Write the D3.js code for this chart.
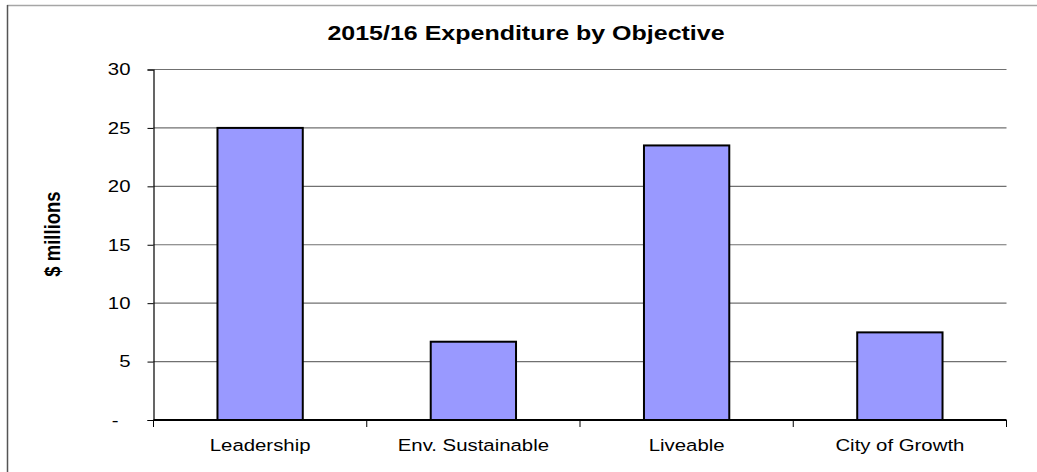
<!DOCTYPE html>
<html>
<head>
<meta charset="utf-8">
<script src="https://cdn.jsdelivr.net/npm/d3@7/dist/d3.min.js"></script>
<style>
  html, body { margin: 0; padding: 0; background: #fff; }
  svg { display: block; }
  text { font-family: "Liberation Sans", Arial, sans-serif; fill: #000; }
</style>
</head>
<body>
<svg id="chart" width="1037" height="472"></svg>
<script>
// Expenditure by objective, $ millions
const categories = ["Leadership", "Env. Sustainable", "Liveable", "City of Growth"];
const expenditure = [25.0, 6.7, 23.5, 7.5];
const yTicks = [0, 5, 10, 15, 20, 25, 30];
const titleText = "2015/16 Expenditure by Objective";
const yAxisTitle = "$ millions";

const W = 1037, H = 472;
const SX = 1.22; // horizontal text stretch
const plot = { left: 153.5, right: 1006.5, top: 69.5, bottom: 420 };

const svg = d3.select("#chart");

// chart frame
svg.append("line").attr("x1", 7).attr("x2", W).attr("y1", 5.5).attr("y2", 5.5)
  .attr("stroke", "#a6a6a6").attr("stroke-width", 1.5);
svg.append("line").attr("x1", 7.5).attr("x2", 7.5).attr("y1", 5).attr("y2", H)
  .attr("stroke", "#555").attr("stroke-width", 1.5);

const x = d3.scaleBand()
  .domain(categories)
  .range([plot.left, plot.right])
  .paddingInner(0.6)
  .paddingOuter(0.3);

const y = d3.scaleLinear()
  .domain([0, 30])
  .range([plot.bottom, plot.top]);

// horizontal gridlines
svg.append("g")
  .selectAll("line")
  .data(yTicks.filter(d => d > 0))
  .join("line")
  .attr("x1", plot.left).attr("x2", plot.right)
  .attr("y1", d => y(d)).attr("y2", d => y(d))
  .attr("stroke", "#707070").attr("stroke-width", 1.1);

// bars
svg.append("g")
  .selectAll("rect")
  .data(categories.map((c, i) => ({ c, v: expenditure[i] })))
  .join("rect")
  .attr("x", d => x(d.c))
  .attr("y", d => y(d.v))
  .attr("width", x.bandwidth())
  .attr("height", d => y(0) - y(d.v))
  .attr("fill", "#9999ff")
  .attr("stroke", "#000")
  .attr("stroke-width", 2);

// y axis
const yAxis = svg.append("g")
  .attr("transform", `translate(${plot.left},0)`)
  .call(d3.axisLeft(y).tickValues(yTicks).tickSize(6).tickPadding(17)
    .tickFormat(d => d === 0 ? "-" : d3.format("d")(d)));
yAxis.select(".domain").attr("stroke", "#000").attr("stroke-width", 1.2);
yAxis.selectAll(".tick line").attr("stroke", "#000");
yAxis.selectAll(".tick text")
  .attr("font-size", 16.7)
  .attr("x", d => (d === 0 ? -35 : -23) / SX)
  .attr("transform", `scale(${SX},1)`);

// x axis with ticks on category boundaries
const step = x.step();
const bounds = categories.map(c => x(c) + x.bandwidth() / 2 - step / 2);
bounds.push(x(categories[categories.length - 1]) + x.bandwidth() / 2 + step / 2);

svg.append("line")
  .attr("x1", plot.left).attr("x2", plot.right)
  .attr("y1", y(0)).attr("y2", y(0))
  .attr("stroke", "#000").attr("stroke-width", 2);
svg.append("g")
  .selectAll("line")
  .data(bounds)
  .join("line")
  .attr("x1", d => d).attr("x2", d => d)
  .attr("y1", y(0)).attr("y2", y(0) + 7)
  .attr("stroke", "#000").attr("stroke-width", 1);

const xAxis = svg.append("g")
  .attr("transform", `translate(0,${plot.bottom})`)
  .call(d3.axisBottom(x).tickSize(0).tickPadding(0));
xAxis.select(".domain").remove();
xAxis.selectAll(".tick text")
  .attr("font-size", 16.7)
  .attr("y", 31)
  .attr("dy", 0)
  .attr("transform", `scale(${SX},1)`);

// title
svg.append("text")
  .attr("transform", `translate(526,40) scale(1.19,1)`)
  .attr("text-anchor", "middle")
  .attr("font-size", 21)
  .attr("font-weight", "bold")
  .text(titleText);

// y axis title
svg.append("text")
  .attr("transform", `translate(60,234) scale(${SX},1) rotate(-90)`)
  .attr("text-anchor", "middle")
  .attr("font-size", 18.5)
  .attr("font-weight", "bold")
  .text(yAxisTitle);
</script>
</body>
</html>
